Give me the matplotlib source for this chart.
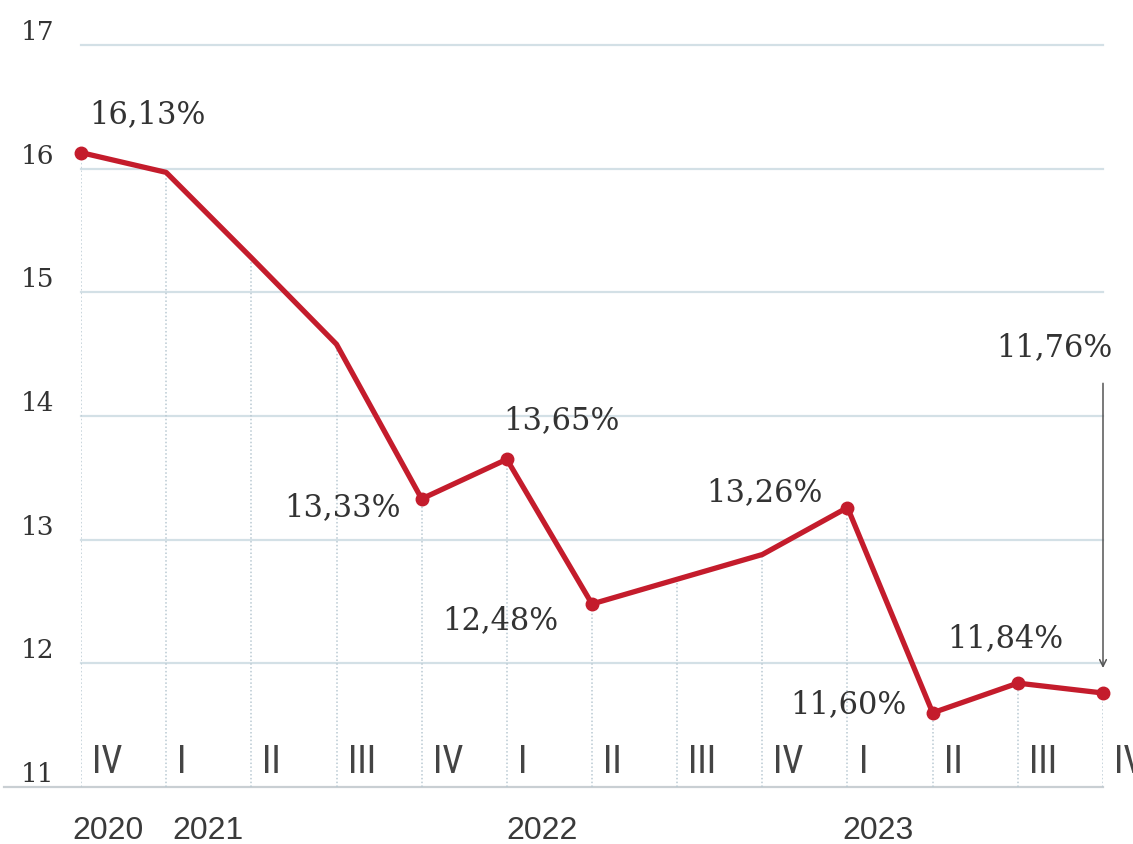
"""
Quarterly rate chart, IV 2020 - IV 2023
"""
import matplotlib
matplotlib.use('Agg')
import matplotlib.pyplot as plt
from matplotlib import font_manager

# Data
quarters = ['IV', 'I', 'II', 'III', 'IV', 'I', 'II', 'III', 'IV', 'I', 'II', 'III', 'IV']
values = [16.13, 15.97, 15.28, 14.58, 13.33, 13.65, 12.48, 12.68, 12.88, 13.26, 11.60, 11.84, 11.76]
years = ['2020', '2021', '2022', '2023']
year_pos = [-0.1, 1.07, 5.0, 8.94]

# Labelled points and where their labels sit (offset in points from the dot)
label_idx = [0, 4, 5, 6, 9, 10, 11]
label_text = ['16,13%', '13,33%', '13,65%', '12,48%', '13,26%', '11,60%', '11,84%']
label_offset = [(48, 27), (-57, -6), (39, 28), (-66, -12), (-60, 11), (-61, 6), (-9, 32)]
last_label = '11,76%'

yticks = [11, 12, 13, 14, 15, 16, 17]

RED = '#c41c2c'
GRID = '#d3e0e6'
TEXT = '#333333'
SERIF = 'DejaVu Serif'

# pick a condensed sans for the quarter labels if one is there
names = {f.name for f in font_manager.fontManager.ttflist}
NARROW = 'DejaVu Sans'
for cand in ['Liberation Sans Narrow', 'DejaVu Sans Condensed', 'Roboto Condensed',
             'Open Sans Condensed', 'Noto Sans Condensed']:
    if cand in names:
        NARROW = cand
        break

fig = plt.figure(figsize=(11.33, 8.44), dpi=100)
ax = fig.add_axes([81 / 1133, 1 - 787 / 844, (1103 - 81) / 1133, (787 - 45) / 844])

x = list(range(len(values)))
ax.set_xlim(0, len(values) - 1)
ax.set_ylim(11, 17)

# Horizontal grid
for yv in yticks[1:]:
    ax.axhline(yv, color=GRID, lw=1.6, zorder=1, clip_on=False)
# Baseline runs out under the "11" label
ax.plot([-0.9, len(values) - 1], [11, 11], color='#c9cfd3', lw=1.6,
        clip_on=False, zorder=1)

# Dotted drop lines from the baseline up to each point
for xi, v in zip(x, values):
    ax.plot([xi, xi], [11, v], color='#b9c9d2', lw=1.1, ls=(0, (1, 1.5)), zorder=2)

# Main line
ax.plot(x, values, color=RED, lw=3.8, solid_joinstyle='round', zorder=4, clip_on=False)
dots = label_idx + [len(values) - 1]
ax.plot([x[i] for i in dots], [values[i] for i in dots], 'o', color=RED,
        ms=9, zorder=5, clip_on=False)

# Value labels
for i, txt, off in zip(label_idx, label_text, label_offset):
    ax.annotate(txt, (x[i], values[i]), xytext=off, textcoords='offset points',
                ha='center', va='center', fontsize=22, family=SERIF, color=TEXT,
                zorder=6, annotation_clip=False)

# Last point: label high above with an arrow down
last = len(values) - 1
ax.annotate('', xy=(x[last], values[last]), xytext=(0, 223), textcoords='offset points',
            arrowprops=dict(arrowstyle='->', color='#555555', lw=1.1,
                            shrinkA=0, shrinkB=18, mutation_scale=12),
            annotation_clip=False)
ax.annotate(last_label, (x[last], values[last]), xytext=(-35, 249),
            textcoords='offset points', ha='center', va='center', fontsize=22,
            family=SERIF, color=TEXT, annotation_clip=False)

# Quarter labels just right of each drop line
for xi, q in zip(x, quarters):
    ax.text(xi + 0.13, 11.11, q, ha='left', va='baseline', fontsize=27,
            family=NARROW, stretch='condensed', color='#444444', clip_on=False)

# Year labels under the axis
for yp, yr in zip(year_pos, years):
    ax.text(yp, 10.58, yr, ha='left', va='baseline', fontsize=23,
            family='Liberation Sans', color='#3a3a3a', clip_on=False)

# Y axis labels sit on top of their grid lines
ax.set_yticks(yticks)
ax.set_yticklabels([str(t) for t in yticks], family=SERIF, fontsize=19, color=TEXT)
for lbl in ax.get_yticklabels():
    lbl.set_verticalalignment('bottom')
ax.tick_params(axis='y', length=0, pad=19)
ax.set_xticks([])
for s in ax.spines.values():
    s.set_visible(False)
ax.set_facecolor('none')

plt.savefig('out.png', dpi=100, facecolor='white')
